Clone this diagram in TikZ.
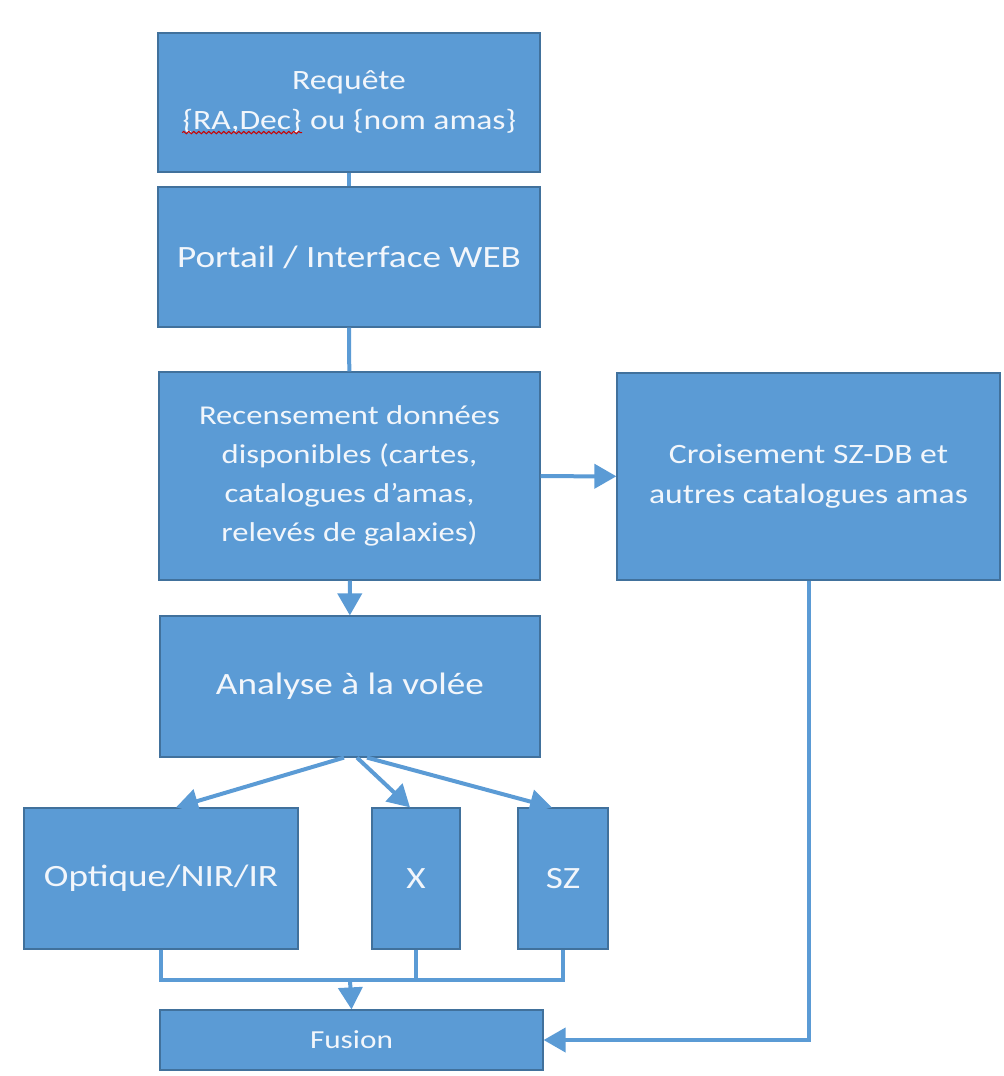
\documentclass[tikz,border=0pt]{standalone}
\usepackage{fontspec}
\setmainfont{Carlito}[FakeStretch=1.2]
\usepackage{tikz}
\usetikzlibrary{positioning, arrows.meta, calc, decorations.pathmorphing}

\definecolor{boxblue}{RGB}{91,155,213}
\definecolor{boxedge}{RGB}{65,113,156}
\definecolor{boxtext}{RGB}{242,246,251}

% red wavy underline of the spell checker
\newcommand{\spellerr}[1]{\tikz[baseline=(w.base), x=1pt, y=1pt]{%
  \node[inner sep=0pt, minimum width=0pt, minimum height=0pt, draw=none, fill=none, text=boxtext](w){#1};
  \draw[red!80!black, line width=0.5pt, decorate, decoration={snake, amplitude=0.6pt, segment length=2.5pt}]
    ([yshift=-1.5pt]w.base west) -- ([yshift=-1.5pt]w.base east);}}

\begin{document}
\begin{tikzpicture}[x=0.5pt, y=-0.5pt,
    box/.style={rectangle, draw=boxedge, fill=boxblue, line width=0.6pt, text=boxtext,
                align=center, inner sep=0pt, font=\fontsize{14}{20}\selectfont},
    bigbox/.style={box, font=\fontsize{15.5}{20}\selectfont},
    link/.style={draw=boxblue, line width=2pt},
    arrow/.style={link, -{Triangle[width=12pt,length=11pt]}}
]
\useasboundingbox (0,0) rectangle (1003,1076);

\node[box, minimum width=191pt, minimum height=69.5pt](req) at (349,102.5)
    {Requête\\\spellerr{\{RA,Dec\}} ou \{nom amas\}};
\node[bigbox, minimum width=191pt, minimum height=70pt](por) at (349,257)
    {Portail / Interface WEB};
\node[box, minimum width=190.5pt, minimum height=104pt, font=\fontsize{13.6}{19.5}\selectfont](rec) at (349.5,476)
    {Recensement données\\disponibles (cartes,\\catalogues d’amas,\\relevés de galaxies)};
\node[box, minimum width=191.5pt, minimum height=103.5pt](cro) at (808.5,476.5)
    {Croisement SZ-DB et\\autres catalogues amas};
\node[bigbox, minimum width=190pt, minimum height=70.5pt](ana) at (350,686.5)
    {Analyse à la volée};
\node[bigbox, minimum width=137pt, minimum height=70.5pt](opt) at (161,878.5)
    {Optique/NIR/IR};
\node[bigbox, minimum width=44pt, minimum height=70.5pt](xray) at (416,878.5)
    {X};
\node[bigbox, minimum width=45pt, minimum height=70.5pt](sz) at (563,878.5)
    {SZ};
\node[box, minimum width=191.5pt, minimum height=30pt, font=\fontsize{13}{16}\selectfont](fus) at (351.5,1040)
    {Fusion};

\coordinate (join) at (350,980);

\draw[link] (req) -- (por);
\draw[link] (por) -- (rec);
\draw[arrow] (rec) -- (cro);
\draw[arrow] (rec) -- (ana);

\draw[arrow] ([xshift=-3pt]ana.south) -- ([xshift=7.5pt]opt.north);
\draw[arrow] ([xshift=3.5pt]ana.south) -- ([xshift=-3pt]xray.north);
\draw[arrow] ([xshift=8.5pt]ana.south) -- ([xshift=-5.5pt]sz.north);

\draw[link] (opt.south) |- (join) -| (sz.south);
\draw[link] (xray.south) -- (xray.south |- join);
\draw[arrow] (join) -- (fus.north);
\draw[arrow] (cro.south) |- (fus.east);
\end{tikzpicture}
\end{document}
